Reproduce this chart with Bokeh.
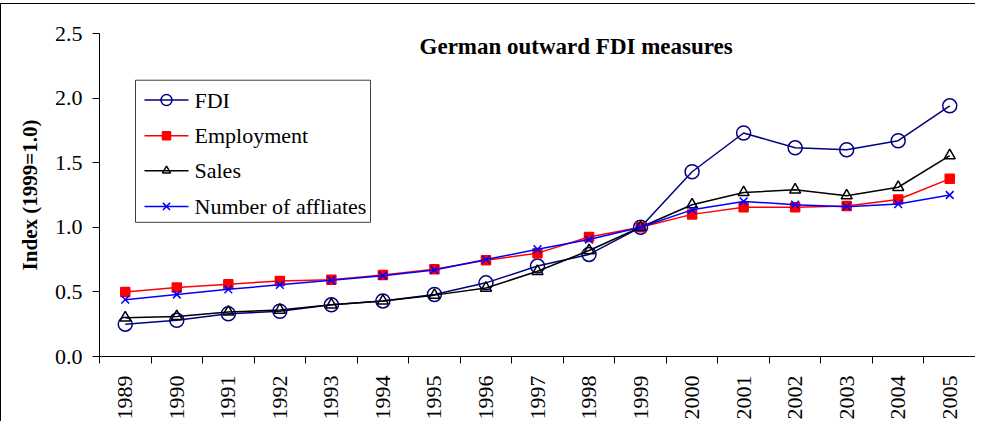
from bokeh.plotting import figure
from bokeh.models import Range1d, FixedTicker, Label, ColumnDataSource
from bokeh.core.properties import value
from bokeh.embed import file_html
from bokeh.resources import INLINE
import math

years = ["1989", "1990", "1991", "1992", "1993", "1994", "1995", "1996", "1997",
         "1998", "1999", "2000", "2001", "2002", "2003", "2004", "2005"]
fdi = [0.25, 0.28, 0.33, 0.35, 0.40, 0.43, 0.48, 0.57, 0.70, 0.79, 1.00,
       1.43, 1.73, 1.615, 1.60, 1.67, 1.94]
employment = [0.50, 0.535, 0.56, 0.585, 0.595, 0.63, 0.675, 0.745, 0.80, 0.925, 1.00,
              1.10, 1.155, 1.155, 1.165, 1.215, 1.375]
sales = [0.30, 0.31, 0.345, 0.36, 0.40, 0.43, 0.475, 0.53, 0.66, 0.82, 1.00,
         1.175, 1.27, 1.29, 1.245, 1.31, 1.555]
affiliates = [0.44, 0.48, 0.52, 0.555, 0.59, 0.625, 0.67, 0.75, 0.83, 0.905, 1.00,
              1.135, 1.20, 1.175, 1.16, 1.18, 1.25]
y_ticks = [0.0, 0.5, 1.0, 1.5, 2.0, 2.5]
series_names = ["FDI", "Employment", "Sales", "Number of affliates"]
title_text = "German outward FDI measures"
y_label = "Index (1999=1.0)"

SERIF = "Liberation Serif"
xpos = [i + 0.5 for i in range(len(years))]

W, H = 975, 418
MB_L, MB_T, MB_R, MB_B = 98, 29, 1, 64
p = figure(width=W, height=H, output_backend="svg", toolbar_location=None,
           x_range=Range1d(0, len(years)), y_range=Range1d(0, 2.5),
           min_border_left=MB_L, min_border_top=MB_T, min_border_right=MB_R,
           min_border_bottom=MB_B)
p.styles = {"border-left": "1px solid black", "border-top": "1px solid black", "margin-top": "3px"}
p.outline_line_color = None
p.background_fill_color = "white"
p.border_fill_color = "white"
p.grid.visible = False

# pixel -> data helpers (relative to the frame's bottom-left corner)
px_x = (W - MB_L - MB_R) / len(years)
px_y = (H - MB_T - MB_B) / 2.5
def dx(px):
    return px / px_x
def dy(px):
    return px / px_y

# x axis: labels at centres, tick marks at category boundaries
p.xaxis.ticker = FixedTicker(ticks=xpos, minor_ticks=list(range(len(years) + 1)))
p.xaxis.major_label_overrides = {x: y for x, y in zip(xpos, years)}
p.xaxis.major_tick_line_color = None
p.xaxis.minor_tick_out = 7
p.xaxis.minor_tick_in = 0
p.xaxis.minor_tick_line_color = "black"
p.xaxis.major_label_orientation = math.pi / 2
p.xaxis.major_label_standoff = 12
p.xaxis.major_label_text_font = SERIF
p.xaxis.major_label_text_font_size = "22px"
p.xaxis.major_label_text_color = "black"
p.xaxis.axis_line_color = "black"

p.yaxis.ticker = FixedTicker(ticks=y_ticks)
p.yaxis.major_label_overrides = {t: f"{t:.1f}" for t in y_ticks}
p.yaxis.major_tick_out = 7
p.yaxis.major_tick_in = 0
p.yaxis.minor_tick_line_color = None
p.yaxis.major_label_standoff = 10
p.yaxis.major_label_text_font = SERIF
p.yaxis.major_label_text_font_size = "22px"
p.yaxis.major_label_text_color = "black"
p.yaxis.axis_line_color = "black"
p.yaxis.axis_label = y_label
p.yaxis.axis_label_text_font = SERIF
p.yaxis.axis_label_text_font_size = "21px"
p.yaxis.axis_label_text_font_style = "bold"
p.yaxis.axis_label_text_color = "black"
p.yaxis.axis_label_standoff = 10

styles = [
    dict(color="#000080", marker="circle", size=14, lsize=11, fill=None),
    dict(color="#FF0000", marker="square", size=9, lsize=8, fill="#FF0000"),
    dict(color="black", marker="triangle", size=11, lsize=8, fill=None),
    dict(color="#0000FF", marker="x", size=11, lsize=10, fill=None),
]

# legend box (drawn first, under everything)
p.quad(left=dx(36), right=dx(271), bottom=dy(135), top=dy(278),
       fill_color="white", line_color="#404040", line_width=1)

row_px = [258, 222, 187, 151]
for name, vals, st, rp in zip(series_names, [fdi, employment, sales, affiliates], styles, row_px):
    src = ColumnDataSource(dict(x=xpos, y=vals))
    p.line("x", "y", source=src, line_color=st["color"], line_width=1.5)
    p.scatter("x", "y", source=src, marker=st["marker"], size=st["size"],
              line_color=st["color"], line_width=1.5, fill_color=st["fill"])
    # legend entry
    p.line([dx(45), dx(89)], [dy(rp), dy(rp)], line_color=st["color"], line_width=1.5)
    p.scatter([dx(67)], [dy(rp)], marker=st["marker"], size=st["lsize"],
              line_color=st["color"], line_width=1.5, fill_color=st["fill"])
    p.text([dx(95)], [dy(rp)], text=[name], text_font=value(SERIF), text_font_size="22px",
           text_color="black", text_baseline="middle", text_align="left")

title = Label(x=9.25, y=2.40, text=title_text, text_font=SERIF, text_font_size="23px",
              text_font_style="bold", text_align="center", text_baseline="middle",
              text_color="black")
p.add_layout(title)

open("out.html", "w").write(file_html(p, INLINE))
